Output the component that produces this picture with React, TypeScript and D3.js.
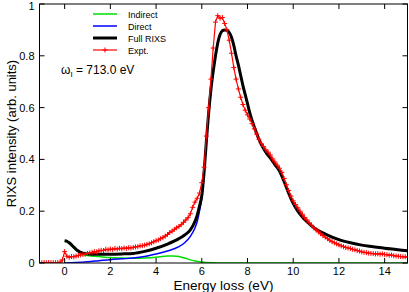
import React from "react";
import * as d3 from "d3";

const W = 409;
const H = 292;

const xTicks = [0, 2, 4, 6, 8, 10, 12, 14];
const yTicks = [0, 0.2, 0.4, 0.6, 0.8, 1];
const yTickLabels = ["0", "0.2", "0.4", "0.6", "0.8", "1"];

const legendLabels = ["Indirect", "Direct", "Full RIXS", "Expt."];

// Indirect (green)
const indirectX = [0, 0.1, 0.2, 0.3, 0.4, 0.5, 0.6, 0.7, 0.8, 1.0, 1.5, 2.0, 2.5, 3.0, 3.5, 4.0, 4.5, 4.75, 5.0, 5.25, 5.5, 5.75, 6.0, 6.5, 7.0, 8.0, 10.0, 12.0, 14.0, 15.0];
const indirectY = [0.085, 0.083, 0.077, 0.068, 0.059, 0.05, 0.043, 0.036, 0.032, 0.029, 0.025, 0.021, 0.019, 0.018, 0.019, 0.022, 0.027, 0.027, 0.025, 0.019, 0.012, 0.007, 0.004, 0.001, 0, 0, 0, 0, 0, 0];

// Direct (blue)
const directX = [0, 0.5, 1.0, 1.5, 2.0, 2.5, 3.0, 3.5, 4.0, 4.5, 5.0, 5.25, 5.5, 5.7, 5.8, 5.9, 6.0, 6.1, 6.2, 6.3, 6.4, 6.5, 6.6, 6.7, 6.8, 6.9, 7.0, 7.1, 7.2, 7.3, 7.4, 7.5, 7.6, 7.7, 7.8, 7.9, 8.0, 8.1, 8.2, 8.4, 8.6, 8.8, 9.0, 9.2, 9.4, 9.6, 9.8, 10.0, 10.2, 10.4, 10.6, 10.8, 11.0, 11.5, 12.0, 12.5, 13.0, 13.5, 14.0, 14.5, 15.0];
const directY = [0.0, 0.002, 0.005, 0.009, 0.013, 0.016, 0.019, 0.025, 0.035, 0.046, 0.063, 0.078, 0.103, 0.135, 0.16, 0.2, 0.25, 0.345, 0.468, 0.579, 0.669, 0.74, 0.8, 0.85, 0.882, 0.897, 0.9, 0.898, 0.89, 0.872, 0.84, 0.8, 0.765, 0.725, 0.685, 0.65, 0.615, 0.58, 0.55, 0.5, 0.458, 0.428, 0.405, 0.38, 0.355, 0.315, 0.27, 0.23, 0.2, 0.178, 0.16, 0.143, 0.13, 0.108, 0.09, 0.078, 0.069, 0.063, 0.057, 0.052, 0.047];

// Full RIXS (black)
const fullX = [0, 0.1, 0.2, 0.3, 0.4, 0.5, 0.6, 0.7, 0.8, 1.0, 1.5, 2.0, 2.5, 3.0, 3.5, 4.0, 4.5, 5.0, 5.25, 5.5, 5.7, 5.8, 5.9, 6.0, 6.1, 6.2, 6.3, 6.4, 6.5, 6.6, 6.7, 6.8, 6.9, 7.0, 7.1, 7.2, 7.3, 7.4, 7.5, 7.6, 7.7, 7.8, 7.9, 8.0, 8.1, 8.2, 8.4, 8.6, 8.8, 9.0, 9.2, 9.4, 9.6, 9.8, 10.0, 10.2, 10.4, 10.6, 10.8, 11.0, 11.5, 12.0, 12.5, 13.0, 13.5, 14.0, 14.5, 15.0];
const fullY = [0.086, 0.084, 0.078, 0.07, 0.061, 0.053, 0.046, 0.041, 0.038, 0.035, 0.034, 0.034, 0.035, 0.037, 0.045, 0.057, 0.073, 0.094, 0.108, 0.128, 0.16, 0.185, 0.22, 0.26, 0.35, 0.47, 0.58, 0.67, 0.74, 0.8, 0.85, 0.882, 0.897, 0.9, 0.898, 0.89, 0.872, 0.84, 0.8, 0.765, 0.725, 0.685, 0.65, 0.615, 0.58, 0.55, 0.5, 0.458, 0.428, 0.405, 0.38, 0.355, 0.315, 0.27, 0.23, 0.2, 0.178, 0.16, 0.143, 0.13, 0.108, 0.09, 0.078, 0.069, 0.063, 0.057, 0.052, 0.047];

// Experiment (red, + markers)
const exptX = [
  -1.1, -1.0, -0.9, -0.8, -0.7, -0.6, -0.5, -0.4, -0.3, -0.2, -0.1, 0.0, 0.1, 0.2, 0.3, 0.4, 0.5, 0.6, 0.7, 0.8, 0.9,
  1.0, 1.1, 1.2, 1.3, 1.4, 1.5, 1.6, 1.7, 1.8, 1.9, 2.0, 2.1, 2.2, 2.3, 2.4, 2.5, 2.6, 2.7, 2.8, 2.9,
  3.0, 3.1, 3.2, 3.3, 3.4, 3.5, 3.6, 3.7, 3.8, 3.9, 4.0, 4.1, 4.2, 4.3, 4.4, 4.5, 4.6, 4.7, 4.8, 4.9,
  5.0, 5.1, 5.2, 5.3, 5.4, 5.5, 5.6, 5.7, 5.8, 5.9, 6.0, 6.1, 6.2, 6.3, 6.4, 6.5, 6.6, 6.7, 6.8, 6.9,
  7.0, 7.1, 7.2, 7.3, 7.4, 7.5, 7.6, 7.7, 7.8, 7.9, 8.0, 8.1, 8.2, 8.3, 8.4, 8.5, 8.6, 8.7, 8.8, 8.9,
  9.0, 9.1, 9.2, 9.3, 9.4, 9.5, 9.6, 9.7, 9.8, 9.9, 10.0, 10.1, 10.2, 10.3, 10.4, 10.5, 10.6, 10.7, 10.8, 10.9,
  11.0, 11.1, 11.2, 11.3, 11.4, 11.5, 11.6, 11.7, 11.8, 11.9, 12.0, 12.1, 12.2, 12.3, 12.4, 12.5, 12.6, 12.7, 12.8, 12.9,
  13.0, 13.1, 13.2, 13.3, 13.4, 13.5, 13.6, 13.7, 13.8, 13.9, 14.0, 14.1, 14.2, 14.3, 14.4, 14.5, 14.6, 14.7, 14.8, 14.9, 15.0,
];
const exptY = [
  0.002, 0.001, 0.002, 0.001, 0.002, 0.001, 0.002, 0.001, 0.002, 0.003, 0.012, 0.044, 0.026, 0.022, 0.025, 0.024, 0.027, 0.029, 0.031, 0.033, 0.034,
  0.037, 0.039, 0.041, 0.044, 0.043, 0.047, 0.049, 0.048, 0.053, 0.051, 0.054, 0.052, 0.056, 0.054, 0.057, 0.055, 0.058, 0.056, 0.059, 0.058,
  0.06, 0.062, 0.063, 0.066, 0.067, 0.069, 0.072, 0.074, 0.078, 0.082, 0.086, 0.089, 0.094, 0.098, 0.104, 0.11, 0.118, 0.123, 0.13, 0.136,
  0.141, 0.148, 0.157, 0.166, 0.175, 0.19, 0.215, 0.235, 0.25, 0.27, 0.31, 0.37, 0.49, 0.6, 0.71, 0.83, 0.93, 0.955, 0.945, 0.948,
  0.925, 0.9, 0.86, 0.81, 0.755, 0.71, 0.672, 0.64, 0.612, 0.59, 0.572, 0.556, 0.538, 0.518, 0.498, 0.478, 0.462, 0.45, 0.437, 0.428,
  0.417, 0.402, 0.39, 0.378, 0.366, 0.35, 0.326, 0.302, 0.28, 0.258, 0.24, 0.226, 0.213, 0.2, 0.188, 0.176, 0.166, 0.155, 0.146, 0.136,
  0.128, 0.12, 0.113, 0.106, 0.1, 0.094, 0.088, 0.082, 0.078, 0.074, 0.07, 0.066, 0.063, 0.06, 0.058, 0.056, 0.053, 0.051, 0.048, 0.046,
  0.043, 0.041, 0.04, 0.038, 0.037, 0.036, 0.035, 0.036, 0.034, 0.035, 0.033, 0.032, 0.03, 0.031, 0.028, 0.027, 0.026, 0.025, 0.024, 0.024, 0.023,
];

const FONT = "'Liberation Sans', Arial, Helvetica, sans-serif";

export default function App() {
  const left = 39.5, right = 407.5, top = 4, bottom = 263;
  const x = d3.scaleLinear().domain([-1.1, 15]).range([left, right]);
  const y = d3.scaleLinear().domain([0, 1]).range([bottom, top]);
  const line = d3
    .line<[number, number]>()
    .x((d) => x(d[0]))
    .y((d) => y(d[1]))
    .curve(d3.curveMonotoneX);
  const lineLin = d3
    .line<[number, number]>()
    .x((d) => x(d[0]))
    .y((d) => y(d[1]));

  const zip = (a: number[], b: number[]) => a.map((v, i) => [v, b[i]] as [number, number]);
  const indirect = zip(indirectX, indirectY);
  const direct = zip(directX, directY);
  const full = zip(fullX, fullY);
  const expt = zip(exptX, exptY);

  const tl = 5;
  const legendColors = ["#00dd00", "#0000ff", "#000000", "#ff0000"];
  const legendWidths = [1.5, 1.5, 3, 1.2];
  const legY = [14, 26, 38, 50];

  return (
    <svg width={W} height={H} style={{ position: "absolute", left: 0, top: 0, background: "#fff" }} fontFamily={FONT}>
      <defs>
        <clipPath id="plotclip">
          <rect x={left} y={top - 2} width={right - left} height={bottom - top + 2} />
        </clipPath>
      </defs>
      <g clipPath="url(#plotclip)">
        <path d={line(indirect) || ""} fill="none" stroke="#00dd00" strokeWidth={1.5} />
        <path d={line(direct) || ""} fill="none" stroke="#0000ff" strokeWidth={1.5} />
        <path d={line(full) || ""} fill="none" stroke="#000000" strokeWidth={3} />
        <path d={lineLin(expt) || ""} fill="none" stroke="#ff0000" strokeWidth={1.2} />
        {expt.map((d, i) => (
          <path
            key={i}
            d={`M${x(d[0]) - 2.5},${y(d[1])}h5M${x(d[0])},${y(d[1]) - 2.5}v5`}
            stroke="#ff0000"
            strokeWidth={1}
          />
        ))}
      </g>
      {/* frame */}
      <rect x={left} y={top} width={right - left} height={bottom - top} fill="none" stroke="#000" strokeWidth={1} />
      {/* x ticks */}
      {xTicks.map((t) => (
        <g key={"xt" + t}>
          <line x1={x(t)} x2={x(t)} y1={bottom} y2={bottom - tl} stroke="#000" />
          <line x1={x(t)} x2={x(t)} y1={top} y2={top + tl} stroke="#000" />
          <text x={x(t)} y={bottom + 11.5} textAnchor="middle" fontSize={11} fill="#000">
            {t}
          </text>
        </g>
      ))}
      {yTicks.map((t, i) => (
        <g key={"yt" + t}>
          <line x1={left} x2={left + tl} y1={y(t)} y2={y(t)} stroke="#000" />
          <line x1={right} x2={right - tl} y1={y(t)} y2={y(t)} stroke="#000" />
          <text x={left - 5} y={Math.max(y(t) + 4, 9.5)} textAnchor="end" fontSize={11} fill="#000">
            {yTickLabels[i]}
          </text>
        </g>
      ))}
      <text x={(left + right) / 2} y={289.5} textAnchor="middle" fontSize={13.5} fill="#000">
        Energy loss (eV)
      </text>
      <text
        transform={`translate(16,${(top + bottom) / 2}) rotate(-90)`}
        textAnchor="middle"
        fontSize={13}
        fill="#000"
      >
        RIXS intensity (arb. units)
      </text>
      {/* legend */}
      {legendLabels.map((lab, i) => (
        <g key={lab}>
          <line x1={93} x2={117} y1={legY[i]} y2={legY[i]} stroke={legendColors[i]} strokeWidth={legendWidths[i]} />
          {i === 3 && (
            <path d={`M${102.5},${legY[i]}h5M${105},${legY[i] - 2.5}v5`} stroke="#ff0000" strokeWidth={1} />
          )}
          <text x={128} y={legY[i] + 3.5} fontSize={9} fill="#000">
            {lab}
          </text>
        </g>
      ))}
      <text x={61} y={74} fontSize={12} fill="#000">
        ω
        <tspan fontSize={8} dy={3}>I</tspan>
        <tspan dy={-3}> = 713.0 eV</tspan>
      </text>
    </svg>
  );
}
